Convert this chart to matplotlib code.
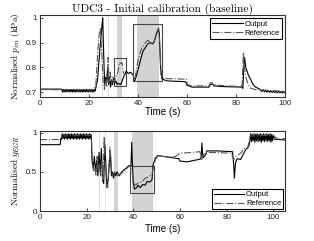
import numpy as np
import matplotlib
matplotlib.use("Agg")
import matplotlib.pyplot as plt
from matplotlib.patches import Rectangle

plt.rcParams['font.family'] = ['Liberation Sans', 'DejaVu Sans']
plt.rcParams['mathtext.fontset'] = 'cm'

# ---- top: normalised p_im ----
t_pim_out = [0, 8.8, 9.0]
v_pim_out = [0.712, 0.712, 0.706]
osc_pim = [0.700, 0.711, 0.701, 0.710, 0.700, 0.711, 0.702, 0.710, 0.700, 0.711,
           0.701, 0.710, 0.700, 0.711, 0.701, 0.710, 0.700, 0.711, 0.702, 0.710,
           0.700, 0.711, 0.701, 0.710, 0.700, 0.711, 0.701, 0.710, 0.700, 0.711,
           0.701, 0.710, 0.700, 0.711, 0.702, 0.710, 0.700, 0.711, 0.701, 0.710]
t_pim_out += list(np.linspace(9.2, 22.3, len(osc_pim)))
v_pim_out += osc_pim
t_pim_out += [22.5, 23.5, 24.5, 25.3, 25.6, 26.0, 26.4, 26.8, 27.2, 27.6, 28.0,
              28.4, 28.8, 29.2, 29.6, 30.0, 30.5, 31.0, 31.5, 32.0, 33.0, 33.5,
              34.5, 35.2, 36.0, 37.0, 38.0, 38.6, 39.2, 40.0, 41.0, 42.0, 43.0,
              44.0, 45.0, 46.0, 46.8, 47.5, 48.3, 48.7, 49.2, 49.7, 50.5, 52.0,
              59.5, 60.0, 62.0, 69.0, 69.5, 70.5, 71.0, 75.0, 82.5, 82.8, 83.2,
              83.5, 84.0, 85.0, 86.0, 87.0, 88.0, 89.5]
v_pim_out += [0.705, 0.75, 0.88, 0.97, 1.0, 0.85, 0.73, 0.76, 0.74, 0.80, 0.73,
              0.76, 0.72, 0.75, 0.73, 0.755, 0.735, 0.745, 0.73, 0.735, 0.73, 0.745,
              0.77, 0.785, 0.775, 0.78, 0.77, 0.745, 0.76, 0.79, 0.83, 0.865, 0.88,
              0.895, 0.90, 0.895, 0.91, 0.935, 0.955, 0.94, 0.80, 0.755, 0.75, 0.745,
              0.742, 0.728, 0.72, 0.72, 0.73, 0.733, 0.725, 0.722, 0.72, 0.715, 0.80,
              0.84, 0.80, 0.77, 0.75, 0.73, 0.72, 0.713]
osc_pim_end = [0.708, 0.702, 0.709, 0.701, 0.707, 0.700, 0.706, 0.699, 0.705, 0.698,
               0.704, 0.698, 0.703, 0.697, 0.703, 0.697, 0.702, 0.696, 0.702, 0.697]
t_pim_out += list(np.linspace(90, 100, len(osc_pim_end)))
v_pim_out += osc_pim_end

t_pim_ref = [0, 22.0, 22.8, 23.5, 24.3, 24.7, 25.2, 25.8, 26.3, 26.8, 27.3, 27.8,
             28.2, 28.7, 29.2, 29.7, 30.2, 31.0, 31.8, 32.5, 33.0, 33.5, 34.0, 34.5,
             35.5, 37.0, 38.0, 38.6, 39.2, 40.0, 41.0, 42.0, 43.0, 44.0, 44.5, 45.5,
             46.5, 47.3, 48.0, 48.5, 49.0, 49.4, 50.0, 59.8, 60.2, 62.0, 69.0, 69.6,
             71.0, 72.0, 82.0, 82.5, 83.0, 83.5, 84.0, 85.0, 86.0, 88.0, 100]
v_pim_ref = [0.71, 0.708, 0.73, 0.85, 0.95, 0.96, 0.86, 0.74, 0.71, 0.75, 0.72, 0.84,
             0.74, 0.78, 0.73, 0.76, 0.74, 0.76, 0.78, 0.82, 0.815, 0.82, 0.78, 0.77,
             0.775, 0.775, 0.77, 0.745, 0.78, 0.83, 0.865, 0.885, 0.90, 0.91, 0.905, 0.895,
             0.90, 0.93, 0.95, 0.96, 0.87, 0.77, 0.755, 0.752, 0.73, 0.725, 0.725, 0.738,
             0.735, 0.728, 0.722, 0.73, 0.86, 0.80, 0.76, 0.73, 0.715, 0.71, 0.703]

# ---- bottom: normalised y_EGR ----
t_egr_out = [0, 8.6, 9.0]
v_egr_out = [0.85, 0.85, 0.93]
osc_egr = [0.92, 0.99, 0.93, 0.98, 0.92, 0.99, 0.93, 0.98, 0.92, 0.99,
           0.93, 0.98, 0.92, 0.99, 0.93, 0.98, 0.92, 0.99, 0.93, 0.98,
           0.92, 0.99, 0.93, 0.98, 0.92, 0.99, 0.93, 0.98, 0.92, 0.99,
           0.93, 0.98, 0.92, 0.99, 0.93, 0.98, 0.92, 0.99, 0.93, 0.98]
t_egr_out += list(np.linspace(9.2, 21.8, len(osc_egr)))
v_egr_out += osc_egr
t_egr_out += [22.0, 22.3, 22.8, 23.3, 23.8, 24.3, 24.8, 25.3, 25.8, 26.3, 26.8,
              27.3, 27.8, 28.2, 28.7, 29.2, 29.7, 30.2, 30.6, 31.0, 31.5, 32.0,
              32.5, 33.0, 34.0, 35.0, 36.0, 37.0, 38.0, 39.0, 39.3, 39.6, 40.0,
              40.5, 41.5, 42.0, 43.0, 44.0, 45.0, 46.0, 47.0, 48.0, 48.5, 49.5,
              50.5, 55.0, 59.5, 60.0, 63.0, 68.0, 69.0, 69.4, 69.8, 71.0, 71.5,
              76.0, 82.5, 83.0, 83.3, 83.8, 84.5, 86.0, 87.5, 88.5, 89.5]
v_egr_out += [0.95, 0.65, 0.55, 0.70, 0.50, 0.65, 0.45, 0.75, 0.50, 0.80, 0.40,
              0.35, 0.85, 0.60, 0.30, 0.40, 0.60, 0.75, 0.45, 0.50, 0.42, 0.50,
              0.45, 0.50, 0.45, 0.50, 0.53, 0.55, 0.58, 0.58, 0.88, 0.60, 0.35,
              0.28, 0.30, 0.33, 0.30, 0.34, 0.33, 0.38, 0.37, 0.40, 0.60, 0.68,
              0.71, 0.69, 0.67, 0.64, 0.63, 0.66, 0.67, 0.87, 0.68, 0.72, 0.77,
              0.77, 0.76, 0.60, 0.42, 0.62, 0.67, 0.66, 0.75, 0.80, 0.83]
osc_egr_end = [0.90, 0.99, 0.89, 0.98, 0.90, 0.99, 0.88, 0.98, 0.90, 0.99,
               0.89, 0.98, 0.90, 0.99, 0.88, 0.98, 0.90, 0.99, 0.89, 0.98,
               0.90, 0.99, 0.89, 0.98, 0.90, 0.99, 0.88, 0.98, 0.90, 0.97]
t_egr_out += list(np.linspace(90, 100, len(osc_egr_end)))
v_egr_out += osc_egr_end
t_egr_out += [100.5, 105]
v_egr_out += [0.92, 0.91]

t_egr_ref = [0, 8.6, 9.0, 21.8, 22.0, 22.5, 23.0, 23.5, 24.0, 24.5, 25.0, 25.5,
             26.0, 26.5, 27.0, 27.5, 28.0, 28.5, 29.0, 29.5, 30.0, 30.5, 31.0,
             32.0, 33.0, 34.0, 36.0, 38.0, 39.2, 39.5, 40.0, 41.0, 42.0, 43.0,
             44.0, 45.0, 46.0, 47.0, 48.0, 48.5, 49.5, 50.5, 55.0, 58.0, 60.0,
             65.0, 68.5, 69.3, 70.0, 71.0, 75.0, 82.0, 83.0, 84.0, 86.0, 87.5,
             89.0, 90.0, 100.0, 101.0, 103.0, 105]
v_egr_ref = [0.915, 0.915, 0.96, 0.97, 0.95, 0.60, 0.50, 0.55, 0.45, 0.70, 0.50, 0.60,
             0.45, 0.65, 0.40, 0.95, 0.60, 0.40, 0.30, 0.55, 0.82, 0.55, 0.45,
             0.50, 0.45, 0.47, 0.50, 0.57, 0.58, 0.50, 0.36, 0.33, 0.36, 0.37,
             0.38, 0.42, 0.43, 0.45, 0.47, 0.55, 0.66, 0.71, 0.69, 0.70, 0.74,
             0.75, 0.76, 0.66, 0.72, 0.75, 0.75, 0.74, 0.66, 0.70, 0.74, 0.80,
             0.80, 0.96, 0.97, 0.94, 0.92, 0.93]

# shaded windows, marker lines and zoom boxes
bands = [(31.5, 33.3), (39.5, 48.5)]
vlines = [25.3, 27.7]
box_top = [(30.0, 0.725, 5.0, 0.111), (38.0, 0.745, 11.7, 0.231)]
box_bot = [(38.6, 0.23, 10.4, 0.347)]

out_style = dict(color='black', lw=0.8, label='Output')
ref_style = dict(color='#555555', lw=0.8, ls='-.', label='Reference')

fig = plt.figure(figsize=(3.14, 2.41), dpi=100)
ax1 = fig.add_axes([40/314, 144/241, 245/314, 82/241])
ax2 = fig.add_axes([40/314, 30/241, 245/314, 80/241])

for ax in (ax1, ax2):
    for a, b in bands:
        ax.axvspan(a, b, color='#d3d3d3', lw=0, zorder=0)
    for x in vlines:
        ax.axvline(x, color='#d8d8d8', lw=0.6, zorder=0)

ax1.plot(t_pim_out, v_pim_out, **out_style)
ax1.plot(t_pim_ref, v_pim_ref, **ref_style)
for x, y, w, h in box_top:
    ax1.add_patch(Rectangle((x, y), w, h, fill=False, ec='#444444', lw=0.8))
ax1.set_xlim(0, 100)
ax1.set_ylim(0.68, 1.012)
ax1.set_yticks([0.7, 0.8, 0.9, 1.0])
ax1.set_yticklabels(['0.7', '0.8', '0.9', '1'])
ax1.set_title('UDC3 - Initial calibration (baseline)', fontsize=8.2, pad=2,
              family='cmr10')
ax1.set_ylabel(r'$\mathrm{Normalised}\ p_{im}\ \mathrm{(kPa)}$', fontsize=6.6, labelpad=3)
ax1.legend(loc='upper right', fontsize=5.5, handlelength=4, fancybox=False,
           edgecolor='black', framealpha=1, borderpad=0.3, labelspacing=0.2,
           handletextpad=0.2, borderaxespad=0.4).get_frame().set_linewidth(0.8)

ax2.plot(t_egr_out, v_egr_out, **out_style)
ax2.plot(t_egr_ref, v_egr_ref, **ref_style)
for x, y, w, h in box_bot:
    ax2.add_patch(Rectangle((x, y), w, h, fill=False, ec='#444444', lw=0.8))
ax2.set_xlim(0, 105)
ax2.set_ylim(0, 1.025)
ax2.set_yticks([0, 0.5, 1.0])
ax2.set_yticklabels(['0', '0.5', '1'])
ax2.set_ylabel(r'$\mathrm{Normalised}\ y_{EGR}$', fontsize=6.8, labelpad=3)
ax2.legend(loc='lower right', fontsize=5.5, handlelength=4, fancybox=False,
           edgecolor='black', framealpha=1, borderpad=0.3, labelspacing=0.2,
           handletextpad=0.2, borderaxespad=0.2).get_frame().set_linewidth(0.8)

for ax, lp in ((ax1, 0.5), (ax2, 2.5)):
    ax.set_xticks([0, 20, 40, 60, 80, 100])
    ax.set_xlabel('Time (s)', fontsize=7, labelpad=lp)
    ax.tick_params(direction='in', labelsize=5.8, length=2, width=0.6, pad=2,
                   colors='#333333', labelcolor='#222222')
    for s in ax.spines.values():
        s.set_linewidth(0.8)
        s.set_color('#333333')

fig.savefig('out.png', dpi=100)
